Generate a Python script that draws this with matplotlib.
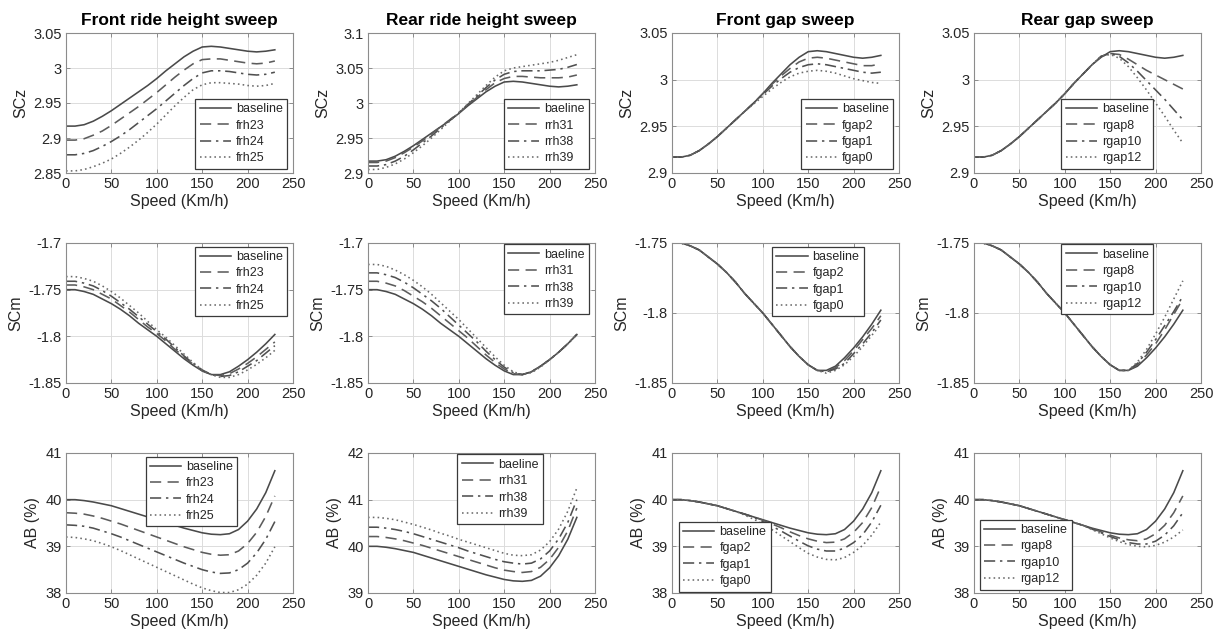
import matplotlib
matplotlib.use("Agg")
import matplotlib.pyplot as plt
from matplotlib.ticker import FormatStrFormatter

plt.rcParams['font.family'] = ['Liberation Sans', 'DejaVu Sans']

speed = list(range(0, 240, 10))

# ---- SCz ----
base_scz = [2.917, 2.917, 2.919, 2.924, 2.931, 2.939, 2.948, 2.957, 2.966, 2.975, 2.985, 2.996,
            3.006, 3.016, 3.024, 3.030, 3.031, 3.030, 3.028, 3.026, 3.024, 3.023, 3.024, 3.026]
frh23_scz = [2.897, 2.897, 2.899, 2.904, 2.910, 2.918, 2.927, 2.936, 2.945, 2.955, 2.965, 2.976,
             2.987, 2.997, 3.006, 3.012, 3.013, 3.013, 3.011, 3.009, 3.007, 3.006, 3.007, 3.010]
frh24_scz = [2.876, 2.876, 2.878, 2.882, 2.888, 2.895, 2.903, 2.912, 2.922, 2.932, 2.942, 2.953,
             2.964, 2.975, 2.985, 2.993, 2.996, 2.996, 2.995, 2.993, 2.991, 2.990, 2.991, 2.994]
frh25_scz = [2.853, 2.853, 2.855, 2.859, 2.864, 2.870, 2.878, 2.887, 2.897, 2.908, 2.920, 2.933,
             2.946, 2.958, 2.969, 2.976, 2.979, 2.979, 2.978, 2.977, 2.975, 2.974, 2.975, 2.978]
rrh31_scz = [2.915, 2.915, 2.917, 2.922, 2.929, 2.937, 2.946, 2.956, 2.966, 2.976, 2.986, 2.997,
             3.008, 3.019, 3.029, 3.035, 3.038, 3.038, 3.037, 3.036, 3.036, 3.036, 3.037, 3.040]
rrh38_scz = [2.910, 2.910, 2.912, 2.917, 2.924, 2.933, 2.943, 2.953, 2.964, 2.975, 2.986, 2.998,
             3.010, 3.022, 3.033, 3.041, 3.045, 3.046, 3.046, 3.046, 3.047, 3.048, 3.051, 3.055]
rrh39_scz = [2.905, 2.905, 2.908, 2.913, 2.920, 2.929, 2.939, 2.950, 2.962, 2.974, 2.986, 2.999,
             3.012, 3.025, 3.037, 3.046, 3.050, 3.052, 3.054, 3.056, 3.058, 3.061, 3.065, 3.069]
fgap2_scz = base_scz[:10] + [2.985, 2.995, 3.004, 3.012, 3.019, 3.023, 3.024, 3.023, 3.021, 3.019,
                             3.017, 3.015, 3.015, 3.017]
fgap1_scz = base_scz[:10] + [2.984, 2.993, 3.001, 3.008, 3.013, 3.016, 3.017, 3.016, 3.014, 3.012,
                             3.010, 3.008, 3.007, 3.008]
fgap0_scz = base_scz[:9] + [2.974, 2.982, 2.990, 2.997, 3.003, 3.007, 3.009, 3.010, 3.009, 3.007,
                            3.004, 3.001, 2.999, 2.997, 2.996]
rgap8_scz = base_scz[:14] + [3.025, 3.028, 3.027, 3.022, 3.016, 3.010, 3.005, 3.000, 2.995, 2.990]
rgap10_scz = base_scz[:14] + [3.025, 3.028, 3.025, 3.018, 3.009, 2.999, 2.989, 2.979, 2.968, 2.957]
rgap12_scz = base_scz[:14] + [3.025, 3.027, 3.023, 3.014, 3.002, 2.989, 2.975, 2.961, 2.946, 2.932]

# ---- SCm ----
base_scm = [-1.750, -1.750, -1.752, -1.755, -1.760, -1.765, -1.771, -1.778, -1.786, -1.793, -1.800, -1.808,
            -1.816, -1.824, -1.831, -1.837, -1.841, -1.841, -1.838, -1.832, -1.825, -1.817, -1.808, -1.798]
frh23_scm = [-1.745, -1.745, -1.747, -1.750, -1.755, -1.760, -1.767, -1.774, -1.782, -1.790, -1.797, -1.805,
             -1.814, -1.822, -1.830, -1.837, -1.841, -1.842, -1.840, -1.835, -1.829, -1.822, -1.814, -1.806]
frh24_scm = [-1.741, -1.741, -1.743, -1.746, -1.751, -1.757, -1.764, -1.771, -1.779, -1.787, -1.795, -1.803,
             -1.812, -1.821, -1.829, -1.836, -1.841, -1.843, -1.842, -1.838, -1.832, -1.826, -1.818, -1.810]
frh25_scm = [-1.736, -1.736, -1.738, -1.741, -1.746, -1.752, -1.759, -1.767, -1.775, -1.784, -1.793, -1.801,
             -1.810, -1.819, -1.828, -1.836, -1.841, -1.844, -1.844, -1.841, -1.836, -1.830, -1.823, -1.815]
rrh31_scm = [-1.741, -1.741, -1.743, -1.746, -1.751, -1.757, -1.763, -1.770, -1.778, -1.786, -1.794, -1.802,
             -1.811, -1.820, -1.828, -1.835, -1.840, -1.841, -1.838, -1.832, -1.825, -1.817, -1.808, -1.798]
rrh38_scm = [-1.732, -1.732, -1.734, -1.737, -1.742, -1.748, -1.755, -1.762, -1.770, -1.779, -1.788, -1.797,
             -1.806, -1.816, -1.825, -1.833, -1.839, -1.841, -1.838, -1.832, -1.825, -1.817, -1.808, -1.798]
rrh39_scm = [-1.723, -1.723, -1.725, -1.729, -1.734, -1.740, -1.747, -1.755, -1.764, -1.773, -1.782, -1.792,
             -1.802, -1.812, -1.822, -1.831, -1.838, -1.841, -1.839, -1.833, -1.825, -1.817, -1.808, -1.798]
fgap2_scm = base_scm[:17] + [-1.842, -1.839, -1.834, -1.827, -1.819, -1.811, -1.802]
fgap1_scm = base_scm[:17] + [-1.842, -1.840, -1.836, -1.829, -1.822, -1.814, -1.805]
fgap0_scm = base_scm[:17] + [-1.843, -1.841, -1.837, -1.831, -1.824, -1.816, -1.808]
rgap8_scm = base_scm[:18] + [-1.837, -1.830, -1.822, -1.812, -1.801, -1.790]
rgap10_scm = base_scm[:18] + [-1.836, -1.828, -1.819, -1.809, -1.799, -1.788]
rgap12_scm = base_scm[:18] + [-1.835, -1.826, -1.815, -1.803, -1.790, -1.777]

# ---- AB (%) ----
base_ab = [40.00, 40.00, 39.98, 39.95, 39.91, 39.87, 39.81, 39.75, 39.69, 39.63, 39.57, 39.51,
           39.45, 39.39, 39.34, 39.29, 39.26, 39.25, 39.27, 39.36, 39.54, 39.80, 40.15, 40.62]
frh23_ab = [39.72, 39.71, 39.69, 39.65, 39.60, 39.54, 39.48, 39.41, 39.34, 39.27, 39.20, 39.13,
            39.06, 38.99, 38.93, 38.87, 38.83, 38.81, 38.82, 38.90, 39.06, 39.30, 39.64, 40.08]
frh24_ab = [39.46, 39.45, 39.43, 39.39, 39.33, 39.27, 39.20, 39.12, 39.04, 38.96, 38.88, 38.80,
            38.72, 38.64, 38.57, 38.50, 38.45, 38.42, 38.43, 38.50, 38.64, 38.86, 39.15, 39.53]
frh25_ab = [39.20, 39.19, 39.16, 39.12, 39.06, 38.99, 38.91, 38.82, 38.73, 38.64, 38.55, 38.46,
            38.37, 38.28, 38.19, 38.11, 38.05, 38.01, 38.01, 38.07, 38.19, 38.38, 38.64, 38.99]
rrh31_ab = [40.21, 40.21, 40.19, 40.16, 40.12, 40.07, 40.02, 39.96, 39.90, 39.84, 39.78, 39.72,
            39.66, 39.60, 39.54, 39.49, 39.46, 39.44, 39.46, 39.55, 39.72, 39.98, 40.33, 40.82]
rrh38_ab = [40.41, 40.41, 40.39, 40.36, 40.32, 40.27, 40.21, 40.15, 40.09, 40.03, 39.97, 39.90,
            39.84, 39.78, 39.72, 39.67, 39.64, 39.62, 39.64, 39.73, 39.90, 40.16, 40.51, 41.00]
rrh39_ab = [40.62, 40.62, 40.60, 40.57, 40.52, 40.47, 40.41, 40.35, 40.28, 40.22, 40.15, 40.09,
            40.03, 39.97, 39.91, 39.85, 39.81, 39.80, 39.82, 39.92, 40.10, 40.37, 40.75, 41.25]
fgap2_ab = base_ab[:9] + [39.63, 39.56, 39.48, 39.40, 39.31, 39.23, 39.16, 39.11, 39.08, 39.09,
                          39.16, 39.30, 39.51, 39.83, 40.28]
fgap1_ab = base_ab[:9] + [39.62, 39.53, 39.43, 39.33, 39.22, 39.11, 39.01, 38.94, 38.90, 38.90,
                          38.96, 39.08, 39.25, 39.52, 39.88]
fgap0_ab = base_ab[:8] + [39.67, 39.58, 39.48, 39.36, 39.23, 39.10, 38.97, 38.85, 38.77, 38.72,
                          38.71, 38.76, 38.87, 39.02, 39.24, 39.52]
rgap8_ab = base_ab[:13] + [39.38, 39.31, 39.24, 39.18, 39.14, 39.12, 39.16, 39.27, 39.45, 39.72, 40.08]
rgap10_ab = base_ab[:13] + [39.37, 39.29, 39.21, 39.14, 39.08, 39.05, 39.05, 39.11, 39.24, 39.44, 39.72]
rgap12_ab = base_ab[:13] + [39.36, 39.27, 39.18, 39.10, 39.04, 39.00, 38.99, 39.02, 39.09, 39.20, 39.35]

titles = ['Front ride height sweep', 'Rear ride height sweep', 'Front gap sweep', 'Rear gap sweep']
ylabels = ['SCz', 'SCm', 'AB (%)']
labels = [['baseline', 'frh23', 'frh24', 'frh25'],
          ['baeline', 'rrh31', 'rrh38', 'rrh39'],
          ['baseline', 'fgap2', 'fgap1', 'fgap0'],
          ['baseline', 'rgap8', 'rgap10', 'rgap12']]

series = [
    [[base_scz, frh23_scz, frh24_scz, frh25_scz],
     [base_scz, rrh31_scz, rrh38_scz, rrh39_scz],
     [base_scz, fgap2_scz, fgap1_scz, fgap0_scz],
     [base_scz, rgap8_scz, rgap10_scz, rgap12_scz]],
    [[base_scm, frh23_scm, frh24_scm, frh25_scm],
     [base_scm, rrh31_scm, rrh38_scm, rrh39_scm],
     [base_scm, fgap2_scm, fgap1_scm, fgap0_scm],
     [base_scm, rgap8_scm, rgap10_scm, rgap12_scm]],
    [[base_ab, frh23_ab, frh24_ab, frh25_ab],
     [base_ab, rrh31_ab, rrh38_ab, rrh39_ab],
     [base_ab, fgap2_ab, fgap1_ab, fgap0_ab],
     [base_ab, rgap8_ab, rgap10_ab, rgap12_ab]],
]

yticks = [
    [[2.85, 2.9, 2.95, 3, 3.05], [2.9, 2.95, 3, 3.05, 3.1], [2.9, 2.95, 3, 3.05], [2.9, 2.95, 3, 3.05]],
    [[-1.85, -1.8, -1.75, -1.7], [-1.85, -1.8, -1.75, -1.7], [-1.85, -1.8, -1.75], [-1.85, -1.8, -1.75]],
    [[38, 39, 40, 41], [39, 40, 41, 42], [38, 39, 40, 41], [38, 39, 40, 41]],
]

# legend placement per panel: (loc, anchor in axes coords)
legend_pos = [
    [('lower right', (0.975, 0.03)), ('lower right', (0.975, 0.03)),
     ('lower right', (0.975, 0.03)), ('lower right', (0.79, 0.03))],
    [('upper right', (0.975, 0.975)), ('upper right', (0.975, 0.99)),
     ('upper right', (0.845, 0.975)), ('upper right', (0.79, 0.99))],
    [('upper right', (0.755, 0.975)), ('upper right', (0.77, 0.99)),
     ('lower left', (0.03, 0.01)), ('lower left', (0.025, 0.025))],
]

styles = ['-', (0, (7, 4)), (0, (7, 3, 1.5, 3)), (0, (1, 2))]
colors = ['#4a4a4a', '#5c5c5c', '#505050', '#6a6a6a']

W, H = 1220, 644
fig = plt.figure(figsize=(W / 100, H / 100), dpi=100)

lefts = [66, 368, 672, 974]
tops = [33, 243, 453]
aw, ah = 227, 140

for r in range(3):
    for c in range(4):
        ax = fig.add_axes([lefts[c] / W, 1 - (tops[r] + ah) / H, aw / W, ah / H])
        for k in range(4):
            ax.plot(speed, series[r][c][k], linestyle=styles[k], color=colors[k],
                    lw=1.15, label=labels[c][k])
        yt = yticks[r][c]
        ax.set_xlim(0, 250)
        ax.set_ylim(yt[0], yt[-1])
        ax.set_xticks([0, 50, 100, 150, 200, 250])
        ax.set_yticks(yt)
        ax.yaxis.set_major_formatter(FormatStrFormatter('%g'))
        ax.grid(True, color='#dcdcdc', lw=0.7)
        ax.set_axisbelow(True)
        ax.tick_params(direction='in', length=3, width=0.7, top=True, right=True,
                       labelsize=10.5, colors='#8c8c8c', labelcolor='#262626', pad=3)
        for s in ax.spines.values():
            s.set_color('#8c8c8c')
            s.set_linewidth(0.8)
        ax.set_xlabel('Speed (Km/h)', fontsize=11.5, color='#262626', labelpad=2)
        ax.set_ylabel(ylabels[r], fontsize=11.5, color='#262626', labelpad=4)
        if r == 0:
            ax.set_title(titles[c], fontsize=12.5, fontweight='bold', pad=6)
        loc, anchor = legend_pos[r][c]
        leg = ax.legend(loc=loc, bbox_to_anchor=anchor, fontsize=9, handlelength=2.5,
                        handletextpad=0.4, labelspacing=0.35, borderpad=0.35,
                        borderaxespad=0, fancybox=False, framealpha=1)
        leg.get_frame().set_edgecolor('#3a3a3a')
        leg.get_frame().set_linewidth(0.9)
        for t in leg.get_texts():
            t.set_color('#262626')

fig.savefig('out.png', dpi=100)
